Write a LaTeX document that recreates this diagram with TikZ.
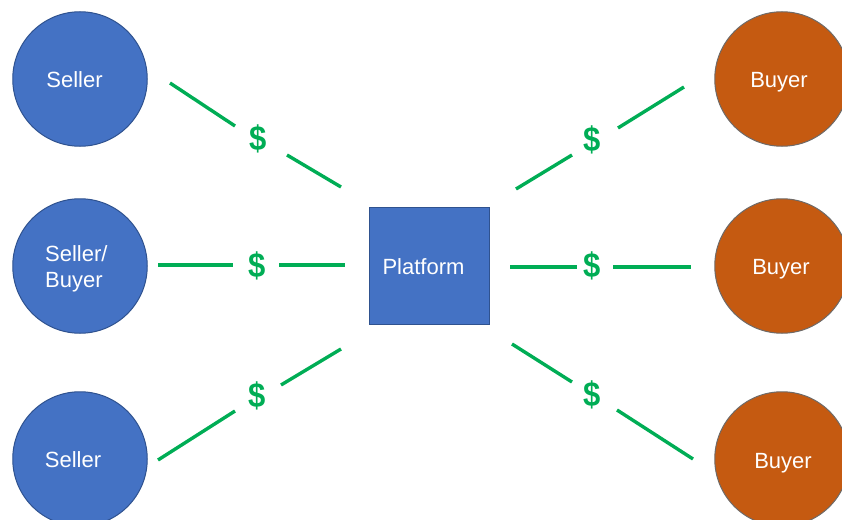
\documentclass[tikz,border=0pt]{standalone}
\usepackage{fontspec}
\setmainfont{Liberation Sans}
\definecolor{sellerblue}{HTML}{4472C4}
\definecolor{sellerline}{HTML}{2F528F}
\definecolor{buyerorange}{HTML}{C55A11}
\definecolor{buyerline}{HTML}{6E6A68}
\definecolor{moneygreen}{HTML}{00AD55}
\tikzset{
  party/.style={circle,minimum size=134.5pt,inner sep=0pt,line width=1pt},
  sellernode/.style={party,fill=sellerblue,draw=sellerline},
  buyernode/.style={party,fill=buyerorange,draw=buyerline},
  platformnode/.style={rectangle,minimum width=119.5pt,minimum height=117pt,inner sep=0pt,fill=sellerblue,draw=sellerline,line width=1pt},
  caption/.style={text=white,font=\fontsize{22}{26}\selectfont,inner sep=0pt,anchor=base},
  money/.style={text=moneygreen,font=\fontsize{31}{31}\selectfont\bfseries,inner sep=0pt,yscale=1.12},
  flow/.style={draw=moneygreen,line width=3.4pt}
}
\begin{document}
\begin{tikzpicture}[x=1pt,y=-1pt]
\useasboundingbox (0,0) rectangle (842,519);
\node[sellernode] (s1) at (80,79) {};
\node[sellernode] (s2) at (80,266) {};
\node[sellernode] (s3) at (80,459) {};
\node[buyernode] (b1) at (782,79) {};
\node[buyernode] (b2) at (782,266) {};
\node[buyernode] (b3) at (782,459) {};
\node[platformnode] (p) at (429.7,265.5) {};
\node[caption] (ts1) at (74.5,87) {Seller};
\node[caption,anchor=base west] (ts2) at (45,261) {Seller/};
\node[caption,anchor=base west] (ts2b) at (45,287) {Buyer};
\node[caption] (ts3) at (73,467) {Seller};
\node[caption] (tb1) at (779,87) {Buyer};
\node[caption] (tb2) at (781,274) {Buyer};
\node[caption] (tb3) at (783,468) {Buyer};
\node[caption] (tp) at (423.5,274) {Platform};
\node[money] (d1) at (258,139) {\$};
\node[money] (d2) at (257,265.5) {\$};
\node[money] (d3) at (257,395.5) {\$};
\node[money] (d4) at (592,139.5) {\$};
\node[money] (d5) at (592,266) {\$};
\node[money] (d6) at (592,394.5) {\$};
\coordinate (a1) at (170,83);  \coordinate (a2) at (235,126);
\coordinate (a3) at (287,155); \coordinate (a4) at (341,187);
\coordinate (c1) at (158,265); \coordinate (c2) at (233,265);
\coordinate (c3) at (279,265); \coordinate (c4) at (345,265);
\coordinate (e1) at (158,460); \coordinate (e2) at (235,411);
\coordinate (e3) at (281,385); \coordinate (e4) at (341,349);
\coordinate (f1) at (516,189); \coordinate (f2) at (572,155);
\coordinate (f3) at (618,128); \coordinate (f4) at (684,87);
\coordinate (g1) at (510,267); \coordinate (g2) at (577,267);
\coordinate (g3) at (613,267); \coordinate (g4) at (691,267);
\coordinate (h1) at (512,344); \coordinate (h2) at (572,382);
\coordinate (h3) at (617,410); \coordinate (h4) at (693,459);
\foreach \n in {a,c,e,f,g,h}{
  \draw[flow] (\n1) -- (\n2);
  \draw[flow] (\n3) -- (\n4);
}
\end{tikzpicture}
\end{document}
